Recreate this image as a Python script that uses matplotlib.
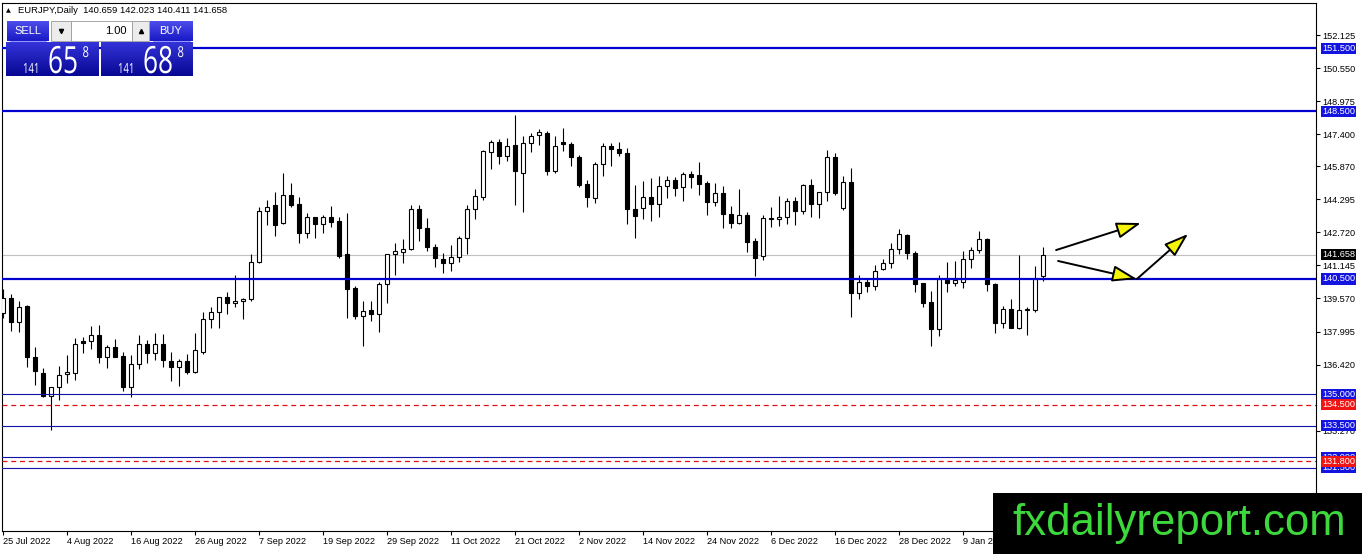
import matplotlib
matplotlib.use("Agg")
import matplotlib.pyplot as plt
import matplotlib.transforms as mtransforms
from matplotlib.patches import Rectangle, PathPatch
from matplotlib.textpath import TextPath
from matplotlib.font_manager import FontProperties
import numpy as np

plt.rcParams['font.family'] = ['Liberation Sans', 'DejaVu Sans']

# EURJPY daily candles, 25 Jul 2022 .. 23 Jan 2023
opens = [138.86, 139.58, 138.43, 139.21, 136.79, 136.00, 134.93, 135.33, 135.95, 136.03,
         137.54, 137.53, 137.83, 136.79, 137.24, 136.83, 135.36, 136.43, 137.38, 136.99,
         137.38, 136.60, 136.29, 136.59, 136.06, 137.03, 138.58, 138.91, 139.63, 139.34,
         139.45, 139.53, 141.33, 143.76, 144.03, 143.16, 144.51, 144.06, 142.68, 143.44,
         143.11, 143.44, 143.27, 141.68, 140.05, 138.75, 139.02, 138.81, 140.26, 141.68,
         141.77, 141.92, 143.84, 142.92, 142.01, 141.44, 141.28, 141.53, 142.44, 143.82,
         144.43, 146.58, 147.02, 146.38, 146.89, 145.54, 147.00, 147.37, 147.45, 145.67,
         147.05, 146.94, 146.30, 145.02, 144.38, 145.97, 146.85, 146.69, 146.53, 143.84,
         143.87, 144.40, 144.06, 144.94, 145.22, 144.87, 145.51, 145.46, 145.06, 144.19,
         144.59, 143.59, 143.19, 143.55, 142.31, 141.61, 143.35, 143.35, 143.44, 144.22,
         143.76, 144.98, 144.06, 144.63, 146.30, 143.90, 145.14, 139.85, 140.34, 140.17,
         140.98, 141.25, 141.92, 142.60, 141.72, 140.29, 139.39, 138.10, 140.45, 140.29,
         140.34, 141.44, 141.88, 142.39, 140.25, 138.38, 139.05, 138.15, 139.02, 139.02,
         140.659]
highs = [140.01, 139.78, 139.47, 139.26, 137.24, 136.25, 135.36, 136.35, 136.86, 137.70,
         137.72, 138.24, 138.31, 137.35, 137.64, 137.03, 136.87, 137.83, 137.59, 137.91,
         137.88, 137.00, 136.70, 136.91, 137.94, 138.91, 139.18, 139.66, 139.90, 140.69,
         139.61, 141.68, 143.95, 144.27, 144.63, 145.57, 145.08, 144.40, 143.63, 143.47,
         143.55, 143.98, 143.47, 143.63, 140.17, 139.47, 139.47, 140.34, 141.70, 142.23,
         142.39, 144.03, 144.03, 143.43, 142.17, 141.72, 142.12, 142.55, 144.03, 144.78,
         146.65, 147.13, 147.16, 147.21, 148.32, 147.32, 147.45, 147.66, 147.58, 147.32,
         147.72, 147.05, 146.42, 145.22, 146.10, 146.97, 146.97, 147.02, 146.73, 144.98,
         145.19, 145.33, 145.43, 145.41, 145.38, 145.62, 145.65, 146.10, 145.18, 145.06,
         144.94, 143.98, 144.78, 143.68, 142.44, 143.55, 143.95, 144.48, 144.35, 144.43,
         145.03, 145.27, 144.67, 146.65, 146.53, 145.41, 145.78, 140.69, 140.56, 141.17,
         141.45, 142.20, 142.87, 142.63, 141.84, 140.30, 139.93, 140.69, 141.33, 141.36,
         141.84, 142.01, 142.79, 142.44, 140.29, 139.21, 139.55, 141.65, 139.15, 141.12,
         142.023]
lows = [138.62, 138.03, 137.99, 136.29, 135.44, 134.89, 133.30, 134.73, 135.55, 135.68,
        136.99, 137.14, 136.48, 136.24, 136.78, 135.17, 134.85, 136.19, 136.48, 136.64,
        136.32, 135.65, 135.41, 135.95, 136.00, 136.92, 138.18, 138.18, 138.83, 139.18,
        138.61, 139.47, 141.28, 143.08, 142.55, 143.12, 143.95, 142.23, 142.47, 142.44,
        142.71, 142.97, 141.52, 138.62, 138.58, 137.30, 138.51, 137.99, 139.37, 140.69,
        141.28, 141.88, 142.33, 141.85, 141.09, 140.80, 140.90, 141.33, 141.69, 143.36,
        144.27, 145.75, 146.00, 146.13, 144.03, 143.71, 146.58, 146.89, 145.46, 145.54,
        146.62, 145.91, 144.91, 143.95, 144.14, 145.41, 145.91, 146.35, 143.12, 142.47,
        143.36, 143.28, 143.47, 144.38, 144.48, 144.22, 144.83, 144.51, 143.55, 143.98,
        142.95, 142.95, 143.12, 141.80, 140.66, 141.41, 142.99, 143.03, 143.12, 143.08,
        143.60, 143.44, 143.43, 144.24, 144.51, 143.79, 138.70, 139.55, 139.90, 139.98,
        140.93, 141.04, 141.69, 141.45, 139.90, 139.18, 137.32, 137.78, 139.90, 140.17,
        140.09, 141.01, 141.72, 139.94, 137.94, 138.15, 138.15, 138.10, 137.83, 138.94,
        140.411]
closes = [139.58, 138.43, 139.18, 136.79, 136.13, 134.93, 135.33, 135.94, 136.05, 137.38,
          137.46, 137.83, 136.79, 137.24, 136.80, 135.36, 136.44, 137.38, 136.99, 137.38,
          136.64, 136.29, 136.59, 136.08, 137.11, 138.58, 138.91, 139.63, 139.34, 139.47,
          139.53, 141.33, 143.76, 143.95, 143.08, 144.51, 144.04, 142.71, 143.44, 143.11,
          143.44, 143.24, 141.61, 140.02, 138.75, 138.99, 138.83, 140.26, 141.68, 141.82,
          141.92, 143.84, 142.92, 142.01, 141.49, 141.28, 141.53, 142.44, 143.82, 144.48,
          146.61, 147.02, 146.38, 146.85, 145.67, 147.00, 147.34, 147.50, 145.67, 146.86,
          146.92, 146.30, 144.98, 144.40, 145.97, 146.85, 146.69, 146.50, 143.82, 143.51,
          144.40, 144.06, 144.94, 145.22, 144.83, 145.51, 145.38, 145.02, 144.19, 144.59,
          143.59, 143.19, 143.55, 142.28, 141.49, 143.39, 143.43, 143.44, 144.22, 143.76,
          144.98, 144.06, 144.63, 146.30, 144.62, 145.14, 139.85, 140.34, 140.17, 140.90,
          141.25, 141.92, 142.63, 141.72, 140.25, 139.34, 138.10, 140.50, 140.29, 140.45,
          141.44, 141.88, 142.39, 140.25, 138.38, 139.05, 138.16, 139.02, 139.05, 140.48,
          141.658]

date_idx = [0, 8, 16, 24, 32, 40, 48, 56, 64, 72, 80, 88, 96, 104, 112, 120]
date_labels = ["25 Jul 2022", "4 Aug 2022", "16 Aug 2022", "26 Aug 2022", "7 Sep 2022",
               "19 Sep 2022", "29 Sep 2022", "11 Oct 2022", "21 Oct 2022", "2 Nov 2022",
               "14 Nov 2022", "24 Nov 2022", "6 Dec 2022", "16 Dec 2022", "28 Dec 2022",
               "9 Jan 2023"]

price_ticks = [152.125, 150.550, 148.975, 147.400, 145.870, 144.295, 142.720, 141.145,
               139.570, 137.995, 136.420, 133.270]

thick_levels = [151.5, 148.5, 140.5]
thin_levels = [135.0, 133.5, 132.0, 131.5]
dashed_levels = [134.5, 131.8]
bid = 141.658

# arrows drawn on the chart: (x0, y0, x1, y1) in bar index / price
arrows = [(131.6, 141.88, 142.2, 143.17),
          (131.85, 141.36, 141.7, 140.5),
          (141.7, 140.5, 148.1, 142.65)]

W, H = 1362, 554
fig = plt.figure(figsize=(W / 100, H / 100), dpi=100)
ax = fig.add_axes([2 / W, 23 / H, 1314 / W, 528 / H])

o = np.array(opens); h = np.array(highs); l = np.array(lows); c = np.array(closes)
x = np.arange(len(o))
up = c >= o
body_lo = np.minimum(o, c)
body_h = np.maximum(np.abs(c - o), 0.03)

ax.axhline(bid, color='#c0c0c0', lw=0.8, zorder=1)
ax.vlines(x, l, h, color='black', lw=0.8, zorder=2)
ax.bar(x[up], body_h[up], 0.55, body_lo[up], color='white', edgecolor='black', lw=0.8, zorder=3)
ax.bar(x[~up], body_h[~up], 0.55, body_lo[~up], color='black', edgecolor='black', lw=0.8, zorder=3)

for lv in thick_levels:
    ax.axhline(lv, color='#0000d0', lw=1.6, zorder=4)
for lv in thin_levels:
    ax.axhline(lv, color='#1212a8', lw=0.8, zorder=4)
for lv in dashed_levels:
    ax.axhline(lv, color='#e01010', lw=0.9, ls=(0, (4, 3)), zorder=4)

for x0, y0, x1, y1 in arrows:
    ax.annotate('', xy=(x1, y1), xytext=(x0, y0),
                arrowprops=dict(arrowstyle='-|>,head_length=1.5,head_width=0.5',
                                fc='#f5f50a', ec='black', lw=1.4,
                                shrinkA=0, shrinkB=0, mutation_scale=10),
                zorder=5)

ax.set_xlim(-0.1625, 164.09)
ax.set_ylim(128.477, 153.668)

ax.yaxis.tick_right()
ax.set_yticks(price_ticks)
ax.set_yticklabels(["%.3f" % t for t in price_ticks])
ax.set_xticks(date_idx)
ax.set_xticklabels(date_labels)
for lbl in ax.get_xticklabels():
    lbl.set_ha('left')
ax.tick_params(axis='y', length=3, width=0.8, pad=1.5, labelsize=6.6)
ax.tick_params(axis='x', length=3, width=0.8, pad=1.5, labelsize=6.6)
for sp in ax.spines.values():
    sp.set_linewidth(0.8)

# coloured price labels on the right scale
trans = mtransforms.blended_transform_factory(ax.transAxes, ax.transData)
box_labels = [(131.5, '#1414e0'), (132.0, '#1414e0'), (133.5, '#1414e0'), (135.0, '#1414e0'),
              (134.5, '#f01414'), (131.8, '#f01414'), (140.5, '#1414e0'), (148.5, '#1414e0'),
              (151.5, '#1414e0'), (bid, 'black')]
for lv, col in box_labels:
    ax.text(1.0046, lv, "%.3f" % lv, transform=trans, fontsize=6.6, color='white',
            ha='left', va='center', clip_on=False, zorder=6,
            bbox=dict(boxstyle='square,pad=0.12', fc=col, ec='none'))

# overlay in pixel coordinates for the trading panel and watermark
ov = fig.add_axes([0, 0, 1, 1], zorder=10)
ov.patch.set_alpha(0)
ov.axis('off')


def grad_box(x0, y0, w, hgt, top, bot):
    g = np.linspace(0, 1, 32)[:, None, None]
    img = np.array(top)[None, None, :] * (1 - g) + np.array(bot)[None, None, :] * g
    ov.imshow(img, extent=(x0, x0 + w, y0 + hgt, y0), aspect='auto', zorder=1)


panel_font = FontProperties(family='Open Sans')


def narrow_text(x0, base, s, size, sx):
    # digits in the MT4 panel are tall and narrow, so squeeze a text path
    tp = TextPath((0, 0), s, size=1, prop=panel_font)
    tr = mtransforms.Affine2D().scale(size * sx, -size).translate(x0, base)
    ov.add_patch(PathPatch(tr.transform_path(tp), fc='white', ec='none', zorder=3))


btn_top, btn_bot = (0.30, 0.30, 0.92), (0.10, 0.10, 0.78)
big_top, big_bot = (0.20, 0.20, 0.85), (0.03, 0.03, 0.58)
grad_box(7, 21, 42, 20, btn_top, btn_bot)
grad_box(150, 21, 43, 20, btn_top, btn_bot)
grad_box(6, 42, 93, 34, big_top, big_bot)
grad_box(101, 42, 92, 34, big_top, big_bot)
ov.add_patch(Rectangle((51, 21), 20, 20, fc='#ececec', ec='#9a9a9a', lw=0.6, zorder=2))
ov.add_patch(Rectangle((71, 21), 61, 20, fc='white', ec='#9a9a9a', lw=0.6, zorder=2))
ov.add_patch(Rectangle((132, 21), 17, 20, fc='#ececec', ec='#9a9a9a', lw=0.6, zorder=2))
ov.plot([61], [31], marker='v', ms=3, color='black', zorder=3)
ov.plot([140.5], [31], marker='^', ms=3, color='black', zorder=3)
ov.text(127, 31, "1.00", fontsize=8, ha='right', va='center', zorder=3)
ov.text(28, 31, "SELL", fontsize=8, color='white', ha='center', va='center', zorder=3)
ov.text(171, 31, "BUY", fontsize=8, color='white', ha='center', va='center', zorder=3)
ov.plot([10, 46], [40.5, 40.5], color='#8080ff', lw=0.6, zorder=3)
ov.plot([153, 190], [40.5, 40.5], color='#8080ff', lw=0.6, zorder=3)

for bx, big in [(6, "65"), (101, "68")]:
    narrow_text(bx + 17, 73, "141", 14, 0.68)
    narrow_text(bx + 42, 73, big, 37.5, 0.70)
    narrow_text(bx + 76.5, 57, "8", 15, 0.75)

ov.text(6, 10.5, "\u25b2", fontsize=4.5, ha='left', va='center', family=['DejaVu Sans'])
ov.text(18, 10.5, "EURJPY,Daily  140.659 142.023 140.411 141.658", fontsize=6.8,
        ha='left', va='center')

ov.add_patch(Rectangle((993, 493), W - 993, H - 493, fc='black', ec='none', zorder=4))
ov.text(1012, 535, "fxdailyreport.com", fontsize=31.5, color='#3cd83c', ha='left',
        va='baseline', family='Liberation Sans', zorder=5)

ov.set_xlim(0, W)
ov.set_ylim(H, 0)

fig.savefig("out.png", dpi=100)
